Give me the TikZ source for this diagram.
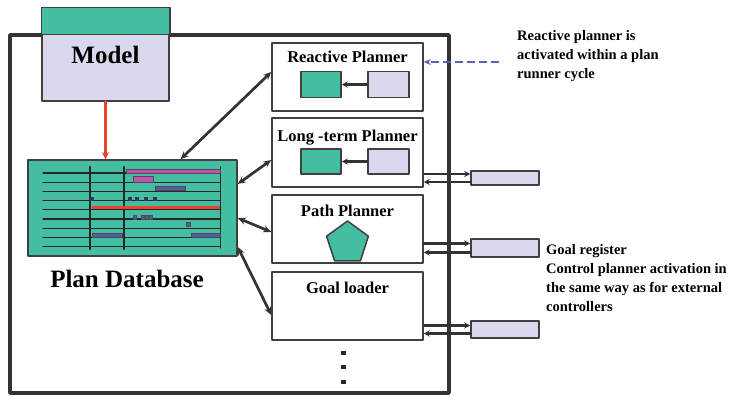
\documentclass[tikz,border=0pt]{standalone}
\usepackage{fontspec}
\setmainfont{Liberation Serif}
\usetikzlibrary{arrows.meta,positioning,shapes.geometric}
\definecolor{dbgreen}{RGB}{67,190,160}
\definecolor{lav}{RGB}{218,216,236}
\definecolor{linkred}{RGB}{234,66,46}
\definecolor{barmag}{RGB}{196,82,178}
\definecolor{barblue}{RGB}{84,90,170}
\definecolor{noteblue}{RGB}{88,98,182}
\begin{document}
\begin{tikzpicture}[x=1pt,y=-1pt,line cap=round,line join=round,
  box/.style={draw=black!75,line width=1.5pt,inner sep=0pt},
  planner/.style={box,fill=white,minimum width=151pt,minimum height=68pt},
  inbox/.style={box,minimum width=40pt,minimum height=26pt},
  extbox/.style={box,fill=lav,minimum width=68pt},
  ptitle/.style={font=\bfseries\fontsize{16.5}{18}\selectfont,inner sep=0pt,anchor=base},
  bigtext/.style={font=\bfseries\fontsize{25}{30}\selectfont,inner sep=0pt},
  notetext/.style={font=\bfseries\fontsize{14.5}{19}\selectfont,align=left,inner sep=0pt,anchor=north west},
  link/.style={line width=2.7pt,draw=black!80,{Stealth[length=8pt,width=7pt]}-{Stealth[length=8pt,width=7pt]}},
  sig/.style={line width=2.5pt,draw=black!80},
  bar/.style={draw=black!70,line width=0.6pt}]
\useasboundingbox (0,0) rectangle (730,399);

\draw[line width=3.4pt,black!80] (10,35) rectangle (449,393);

\node[box,fill=lav,minimum width=127pt,minimum height=93pt,bigtext] (model) at (105.5,54.5) {Model};
\draw[box,fill=dbgreen] (model.north west) rectangle ([yshift=-27pt]model.north east);

\node[box,fill=dbgreen,minimum width=209pt,minimum height=96pt] (db) at (132.5,208) {};
\foreach \i in {0,...,8}
\draw[line width=1.3pt,black!85] (43,{173+9.2*\i}) -- (220,{173+9.2*\i});
\foreach \x in {90,124}
\draw[line width=2.2pt,black!85] (\x,167) -- (\x,249);
\draw[line width=1.4pt,black!85] (220.5,167) -- (220.5,248);
\draw[bar,fill=barmag] (126,169.5) rectangle (220,173);
\draw[bar,fill=barmag] (133,176.5) rectangle (153,182);
\draw[bar,fill=barblue] (155,186.5) rectangle (185,190.5);
\foreach \x in {90,128,135,144,153}
\fill[barblue!60!black] (\x,196.5) rectangle ({\x+3.5},200.5);
\fill[linkred] (92,206) rectangle (220,208.5);
\foreach \x in {133,141,145,149}
\draw[bar,fill=barblue] (\x,215) rectangle ({\x+3.5},219);
\draw[bar,fill=barblue] (186,222.5) rectangle (190.5,226.5);
\draw[bar,fill=barblue] (92.5,233) rectangle (122.5,237);
\draw[bar,fill=barblue] (191,233) rectangle (220,237);
\node[bigtext,anchor=base] (dblabel) at ([xshift=-5.5pt,yshift=-31pt]db.south) {Plan Database};

\draw[line width=3.2pt,linkred,-{Stealth[length=7pt,width=7pt]}] (model.south) -- (model.south |- db.north);

\node[planner] (rp) at (347.5,77) {};
\node[planner,minimum height=69pt] (lp) at (347.5,152.5) {};
\node[planner] (pp) at (347.5,229) {};
\node[planner] (gl) at (347.5,306) {};
\node[ptitle] (rpt) at ([yshift=-20pt]rp.north) {Reactive Planner};
\node[ptitle] (lpt) at ([yshift=-24pt]lp.north) {Long -term Planner};
\node[ptitle] (ppt) at ([yshift=-22pt]pp.north) {Path Planner};
\node[ptitle] (glt) at ([yshift=-22pt]gl.north) {Goal loader};

\node[inbox,fill=dbgreen] (rpa) at (321,84.5) {};
\node[inbox,fill=lav,minimum width=41pt] (rpb) at (388.5,84.5) {};
\node[inbox,fill=dbgreen,minimum height=25pt] (lpa) at (321,161.5) {};
\node[inbox,fill=lav,minimum width=41pt,minimum height=25pt] (lpb) at (388.5,161.5) {};
\draw[sig,line width=2.8pt,-{Stealth[length=6pt,width=6pt]}] (rpb) -- (rpa);
\draw[sig,line width=2.8pt,-{Stealth[length=6pt,width=6pt]}] (lpb) -- (lpa);
\node[box,fill=dbgreen,regular polygon,regular polygon sides=5,minimum size=44pt] (pent) at (347.5,243) {};

\foreach \y in {353,367,382}
\fill[black!85] (340.5,{\y-1.8}) rectangle (345.5,{\y+1.8});

\draw[link] ([xshift=48pt]db.north) -- ([yshift=5pt]rp.west);
\draw[link] ([yshift=24pt]db.east) -- ([yshift=-7.5pt]lp.west);
\draw[link] ([yshift=-10pt]db.east) -- ([yshift=-3pt]pp.west);
\draw[link] ([yshift=-39pt]db.east) -- ([yshift=-9pt]gl.west);

\node[extbox,minimum height=14pt] (ext1) at (505,178) {};
\node[extbox,minimum height=18pt] (ext2) at (505,248) {};
\node[extbox,minimum height=17pt] (ext3) at (505,329.5) {};
\foreach \e/\p/\d in {ext1/lp/4,ext2/pp/4.5,ext3/gl/4}{
\coordinate (\e o) at ([yshift=\d pt]\e.west);
\coordinate (\e i) at ([yshift=-\d pt]\e.west);
\draw[sig,-{Stealth[length=6pt,width=6pt]}] (\e o -| \p.east) -- (\e o);
\draw[sig,-{Stealth[length=6pt,width=6pt]}] (\e i) -- (\e i -| \p.east);
}

\coordinate (nt) at (499,62);
\draw[noteblue,line width=2.8pt,dash pattern=on 8pt off 4pt,line cap=butt,-{Stealth[length=7pt,width=6pt]}] (nt) -- (nt -| rp.east);
\node[notetext] (rpnote) at (517,30) {Reactive planner is\\activated within a plan\\runner cycle};
\node[notetext] (gnote) at (546,244) {Goal register\\Control planner activation in\\the same way as for external\\controllers};
\end{tikzpicture}
\end{document}
